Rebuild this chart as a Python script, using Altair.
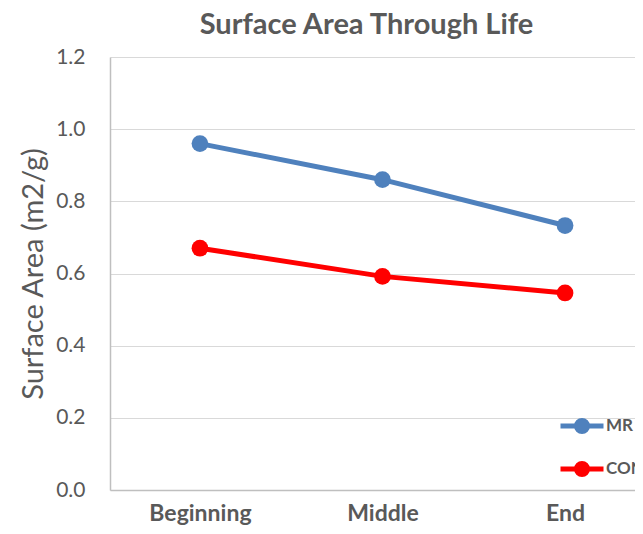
import altair as alt
import pandas as pd

stages = ["Beginning", "Middle", "End"]
series = ["MR", "CON"]
mr_values = [0.96, 0.86, 0.733]
con_values = [0.67, 0.592, 0.546]
colors = ["#4F81BD", "#FF0000"]
y_ticks = [0.0, 0.2, 0.4, 0.6, 0.8, 1.0, 1.2]

rows = []
for s, vals in zip(series, [mr_values, con_values]):
    for st, v in zip(stages, vals):
        rows.append({"stage": st, "series": s, "value": v})
df = pd.DataFrame(rows)

GRAY = "#595959"
FONT = "Lato"


def ring(r):
    return f"M{r},0A{r},{r},0,1,1,-{r},0A{r},{r},0,1,1,{r},0"


legend_path = "M-1,0L1,0" + ring(0.256) + ring(0.116)

base = alt.Chart(df).encode(
    x=alt.X(
        "stage:N",
        sort=stages,
        scale=alt.Scale(type="point", padding=0.438, align=0.5625),
        axis=alt.Axis(
            title=None, labelAngle=0, labelFont=FONT, labelFontSize=23,
            labelFontWeight="bold", labelColor=GRAY, ticks=False, tickSize=0,
            labelPadding=12, domainColor="#bfbfbf", domainWidth=1.5, grid=False,
        ),
    ),
    y=alt.Y(
        "value:Q",
        scale=alt.Scale(domain=[0, 1.2], nice=False, zero=True),
        axis=alt.Axis(
            title="Surface Area (m2/g)", values=y_ticks, format=".1f",
            labelFont=FONT, labelFontSize=21, labelColor=GRAY, ticks=False,
            tickSize=0, labelPadding=25, domainColor="#bfbfbf", domainWidth=1.5,
            grid=True, gridColor="#d9d9d9", gridWidth=1.2,
            titleFont=FONT, titleFontSize=29, titleFontWeight="normal",
            titleColor=GRAY, titlePadding=7,
        ),
    ),
    color=alt.Color(
        "series:N",
        sort=series,
        scale=alt.Scale(domain=series, range=colors),
        legend=alt.Legend(
            title=None, orient="none", legendX=448, legendY=345,
            symbolType=legend_path, symbolSize=1849, symbolStrokeWidth=5,
            labelFont=FONT, labelFontSize=17, labelFontWeight="bold",
            labelColor=GRAY, labelOffset=0, rowPadding=3,
        ),
    ),
)

lines = base.mark_line(strokeWidth=5)
points = base.mark_point(filled=True, size=280, opacity=1)

chart = (lines + points).properties(
    width=525,
    height=433,
    autosize="none",
    padding={"left": 102, "top": 49, "right": 0, "bottom": 36},
    title=alt.TitleParams(
        "Surface Area Through Life", font=FONT, fontSize=29, fontWeight="bold",
        color=GRAY, anchor="middle", frame="group", dx=-6, offset=6,
    ),
).configure_view(stroke=None)

chart.save("out.html", embed_options={"renderer": "svg", "actions": False})
